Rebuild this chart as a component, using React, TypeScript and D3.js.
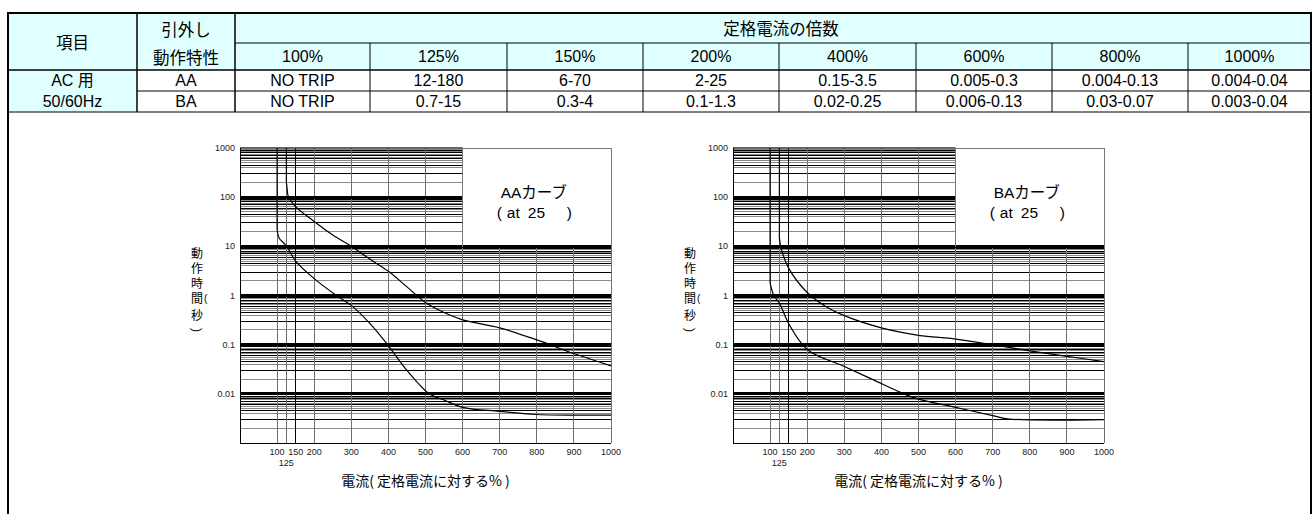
import React from "react";
import * as d3 from "d3";

const LAT = "'Liberation Sans', Arial, 'Noto Sans CJK JP', sans-serif";
const JP = "'Noto Sans CJK JP', 'Liberation Sans', sans-serif";

// ---- table data ----
const HEAD_ITEM = "項目";
const HEAD_CHAR = ["引外し", "動作特性"];
const HEAD_MULT = "定格電流の倍数";
const MULTIPLES = ["100%", "125%", "150%", "200%", "400%", "600%", "800%", "1000%"];
const AC_LABEL = ["AC 用", "50/60Hz"];
const CHAR_NAMES = ["AA", "BA"];
const AA_RANGES = ["NO TRIP", "12-180", "6-70", "2-25", "0.15-3.5", "0.005-0.3", "0.004-0.13", "0.004-0.04"];
const BA_RANGES = ["NO TRIP", "0.7-15", "0.3-4", "0.1-1.3", "0.02-0.25", "0.006-0.13", "0.03-0.07", "0.003-0.04"];

// ---- chart data ----
const X_TICKS = [100, 125, 150, 200, 300, 400, 500, 600, 700, 800, 900, 1000];
const Y_TICKS = [1000, 100, 10, 1, 0.1, 0.01];
const SUB_MULTS = [2, 3, 4, 4.5, 5, 5.5, 6, 6.5, 7, 7.5, 8, 8.5, 9, 9.5];
const DARK_SUBS = [3, 4.5, 6, 7, 8, 9];
const X_TITLE = "電流( 定格電流に対する% )";
const Y_TITLE = ["動", "作", "時", "間", "秒"];

const AA_MAX: [number, number][] = [
  [125, 1000], [125, 200], [127, 150], [130, 105], [150, 64], [200, 32], [250, 17], [300, 10],
  [350, 5.5], [400, 3.1], [450, 1.5], [500, 0.72], [550, 0.45], [600, 0.32], [700, 0.22],
  [800, 0.125], [900, 0.066], [1000, 0.037],
];
const AA_MIN: [number, number][] = [
  [100, 1000], [100, 22], [105, 15], [126, 10], [150, 5], [200, 2.2], [260, 1], [300, 0.63],
  [350, 0.27], [400, 0.095], [450, 0.03], [510, 0.01], [550, 0.0075], [600, 0.0053],
  [700, 0.0044], [800, 0.0038], [1000, 0.0037],
];
const BA_MAX: [number, number][] = [
  [125, 1000], [125, 15], [130, 9], [150, 3.6], [200, 1.15], [250, 0.6], [300, 0.39], [400, 0.22],
  [500, 0.155], [600, 0.13], [700, 0.1], [800, 0.075], [900, 0.058], [1000, 0.045],
];
const BA_MIN: [number, number][] = [
  [100, 1000], [100, 1.8], [110, 1.0], [125, 0.7], [150, 0.27], [200, 0.08], [300, 0.036],
  [380, 0.019], [460, 0.01], [500, 0.0078], [600, 0.0053], [700, 0.0036], [740, 0.0031], [1000, 0.003],
];

const COL_X = [8, 137, 235, 370, 507, 643, 779, 916, 1052, 1188, 1311];
const ROW_Y = [13, 43, 70, 91, 112];

function Table() {
  const cx = (i: number) => (COL_X[i] + COL_X[i + 1]) / 2;
  const cy = (i: number) => (ROW_Y[i] + ROW_Y[i + 1]) / 2;
  const txt = (x: number, y: number, s: string, key: string, fam = LAT, size = 16) => (
    <text key={key} x={x} y={y} textAnchor="middle" dominantBaseline="central" fontFamily={fam} fontSize={size} fill="#000">
      {s}
    </text>
  );
  const bottom = ROW_Y[4];
  const els: any[] = [];
  els.push(<rect key="hbg" x={8} y={13} width={1303} height={ROW_Y[2] - 13} fill="#E0FFFF" />);
  els.push(<rect key="acbg" x={8} y={ROW_Y[2]} width={129} height={bottom - ROW_Y[2]} fill="#E0FFFF" />);
  els.push(<line key="h43" x1={235} x2={1311} y1={ROW_Y[1]} y2={ROW_Y[1]} stroke="#000" strokeWidth={1} />);
  els.push(<line key="h90" x1={137} x2={1311} y1={ROW_Y[3]} y2={ROW_Y[3]} stroke="#000" strokeWidth={1} />);
  for (let i = 3; i < COL_X.length - 1; i++) {
    els.push(<line key={"v" + i} x1={COL_X[i]} x2={COL_X[i]} y1={ROW_Y[1]} y2={bottom} stroke="#000" strokeWidth={1} />);
  }
  els.push(<line key="v1" x1={137} x2={137} y1={13} y2={bottom} stroke="#000" strokeWidth={1.5} />);
  els.push(<line key="v2" x1={235} x2={235} y1={13} y2={bottom} stroke="#000" strokeWidth={1.5} />);
  els.push(<line key="h70" x1={8} x2={1311} y1={ROW_Y[2]} y2={ROW_Y[2]} stroke="#000" strokeWidth={1.5} />);
  els.push(<line key="hb" x1={8} x2={1311} y1={bottom} y2={bottom} stroke="#000" strokeWidth={1} />);
  els.push(<line key="top" x1={7} x2={1312} y1={13} y2={13} stroke="#000" strokeWidth={2} />);
  els.push(<line key="left" x1={8} x2={8} y1={12} y2={514} stroke="#000" strokeWidth={2} />);
  els.push(<line key="right" x1={1311} x2={1311} y1={12} y2={514} stroke="#000" strokeWidth={2} />);

  els.push(txt(cx(0), (ROW_Y[0] + ROW_Y[2]) / 2, HEAD_ITEM, "item", JP, 16.5));
  els.push(txt(cx(1), cy(0) + 1, HEAD_CHAR[0], "c0", JP, 16.5));
  els.push(txt(cx(1), cy(1), HEAD_CHAR[1], "c1", JP, 16.5));
  els.push(txt(781, cy(0), HEAD_MULT, "mult", JP, 16.5));
  MULTIPLES.forEach((m, i) => els.push(txt(cx(i + 2), cy(1), m, "m" + i)));
  els.push(txt(cx(0), cy(2), AC_LABEL[0], "ac0"));
  els.push(txt(cx(0), cy(3), AC_LABEL[1], "ac1"));
  els.push(txt(cx(1), cy(2), CHAR_NAMES[0], "n0"));
  els.push(txt(cx(1), cy(3), CHAR_NAMES[1], "n1"));
  AA_RANGES.forEach((s, i) => els.push(txt(cx(i + 2), cy(2), s, "a" + i)));
  BA_RANGES.forEach((s, i) => els.push(txt(cx(i + 2), cy(3), s, "b" + i)));
  return <g>{els}</g>;
}

function Chart({ left, curves, name }: { left: number; curves: [number, number][][]; name: string }) {
  const x = d3.scaleLinear().domain([0, 1000]).range([left, left + 371]);
  const y = d3.scaleLog().domain([0.001, 1000]).range([443, 148]);
  const xBox = x(600);
  const yBox = y(10);
  const els: any[] = [];

  for (let k = -3; k <= 2; k++) {
    const base = Math.pow(10, k);
    SUB_MULTS.forEach((m) => {
      const v = base * m;
      const x2 = v > 10 ? xBox : x(1000);
      els.push(
        <line key={`s${k}_${m}`} x1={x(0)} x2={x2} y1={y(v)} y2={y(v)}
          stroke={DARK_SUBS.includes(m) ? "#000" : "#8a8a8a"} strokeWidth={1} shapeRendering="crispEdges" />
      );
    });
  }
  X_TICKS.forEach((v) => {
    els.push(
      <line key={"v" + v} x1={x(v)} x2={x(v)} y1={v > 600 ? yBox : y(1000)} y2={y(0.001)}
        stroke={v === 150 ? "#000" : "#6f6f6f"} strokeWidth={1} shapeRendering="crispEdges" />
    );
  });
  [0.01, 0.1, 1, 10, 100].forEach((v) => {
    els.push(
      <line key={"d" + v} x1={x(0)} x2={v > 10 ? xBox : x(1000)} y1={y(v)} y2={y(v)}
        stroke="#000" strokeWidth={3} shapeRendering="crispEdges" />
    );
  });
  els.push(<line key="topl" x1={x(0)} x2={xBox} y1={y(1000)} y2={y(1000)} stroke="#333" strokeWidth={1.5} />);
  els.push(
    <rect key="box" x={xBox} y={y(1000)} width={x(1000) - xBox} height={yBox - y(1000)} fill="#fff"
      stroke="#777" strokeWidth={1} shapeRendering="crispEdges" />
  );
  els.push(<line key="yb10" x1={xBox} x2={x(1000)} y1={yBox} y2={yBox} stroke="#000" strokeWidth={3} shapeRendering="crispEdges" />);
  els.push(<line key="fl" x1={x(0)} x2={x(0)} y1={y(1000)} y2={y(0.001)} stroke="#000" strokeWidth={1} shapeRendering="crispEdges" />);
  els.push(<line key="fb" x1={x(0)} x2={x(1000)} y1={y(0.001)} y2={y(0.001)} stroke="#000" strokeWidth={1} shapeRendering="crispEdges" />);

  const curveLine = d3.line<[number, number]>()
    .x((d) => x(d[0]))
    .y((d) => y(d[1]))
    .curve(d3.curveCatmullRom.alpha(0.5));
  curves.forEach((c, i) => {
    els.push(
      <line key={"cv" + i} x1={x(c[0][0])} x2={x(c[1][0])} y1={y(c[0][1])} y2={y(c[1][1])} stroke="#000" strokeWidth={1.2} />
    );
    els.push(<path key={"c" + i} d={curveLine(c.slice(1)) || ""} fill="none" stroke="#000" strokeWidth={1.2} />);
  });

  const bc = x(800);
  const fs = 15.5;
  els.push(
    <text key="bt1" x={bc - 3} y={192.5} textAnchor="middle" dominantBaseline="central" fontFamily={LAT} fontSize={fs} fill="#000">
      {name}
    </text>
  );
  els.push(<text key="bt2" x={bc - 40} y={212.5} dominantBaseline="central" fontFamily={LAT} fontSize={fs}>(</text>);
  els.push(<text key="bt3" x={bc - 30} y={212.5} dominantBaseline="central" fontFamily={LAT} fontSize={fs}>at</text>);
  els.push(<text key="bt4" x={bc - 9} y={212.5} dominantBaseline="central" fontFamily={LAT} fontSize={fs}>25</text>);
  els.push(<text key="bt5" x={bc + 30} y={212.5} dominantBaseline="central" fontFamily={LAT} fontSize={fs}>)</text>);

  X_TICKS.forEach((v) => {
    els.push(
      <text key={"xt" + v} x={x(v)} y={v === 125 ? 466 : 455} textAnchor="middle" fontFamily={LAT} fontSize={9} fill="#222">
        {v}
      </text>
    );
  });
  Y_TICKS.forEach((v) => {
    els.push(
      <text key={"yt" + v} x={left - 5} y={y(v)} textAnchor="end" dominantBaseline="central" fontFamily={LAT} fontSize={9} fill="#222">
        {String(v)}
      </text>
    );
  });

  els.push(
    <text key="xtitle" x={(x(0) + x(1000)) / 2} y={486} textAnchor="middle" fontFamily={JP} fontSize={14} fill="#000">
      {X_TITLE}
    </text>
  );
  const tx = left - 43;
  const ys = [252.5, 267.5, 282.5, 297.5, 314];
  Y_TITLE.forEach((c, i) => {
    els.push(
      <text key={"yc" + i} x={tx} y={ys[i]} textAnchor="middle" dominantBaseline="central" fontFamily={JP} fontSize={12} fill="#000">
        {c}
      </text>
    );
  });
  els.push(<text key="yp1" x={tx + 7} y={302} fontFamily={LAT} fontSize={10}>(</text>);
  els.push(
    <text key="yp2" x={0} y={0} transform={`translate(${tx},${330}) rotate(90)`} textAnchor="middle" dominantBaseline="central" fontFamily={LAT} fontSize={12}>
      )
    </text>
  );
  return <g>{els}</g>;
}

export default function App() {
  return (
    <svg width={1312} height={514} style={{ position: "absolute", left: 0, top: 0, background: "#fff" }}>
      <rect x={0} y={0} width={1312} height={514} fill="#fff" />
      <Table />
      <Chart left={240} curves={[AA_MAX, AA_MIN]} name="AAカーブ" />
      <Chart left={733} curves={[BA_MAX, BA_MIN]} name="BAカーブ" />
    </svg>
  );
}
